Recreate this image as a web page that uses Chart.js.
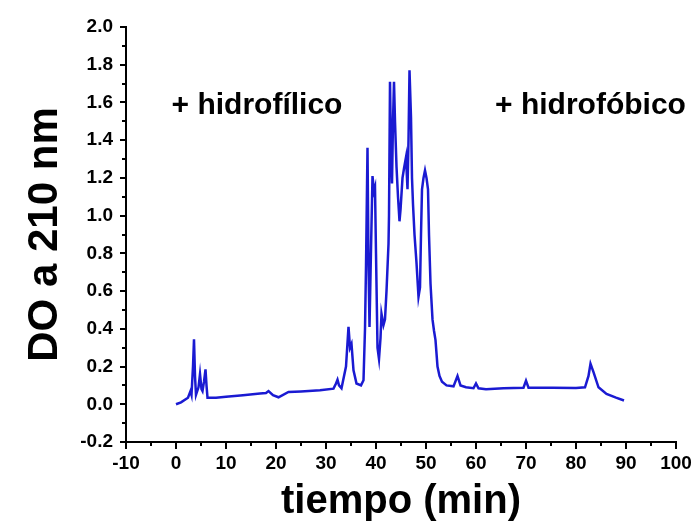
<!DOCTYPE html>
<html>
<head>
<meta charset="utf-8">
<script src="https://cdn.jsdelivr.net/npm/chart.js@4"></script>
<style>
  body { margin: 0; background: #fff; }
</style>
</head>
<body>
<canvas id="hplcChart" width="698" height="526"></canvas>
<script>
"use strict";

// retention time (min) and absorbance at 210 nm
const tiempo = [0, 1, 2.4, 2.9, 3.1, 3.4, 3.6, 3.8, 4.0, 4.5, 4.8, 5.1, 5.3, 5.6, 5.9, 6.1, 6.3,
  8, 10, 13.4, 16.8, 18.0, 18.5, 19.4, 20.5, 22.5, 25, 28.8, 31.5, 32.0, 32.3, 32.6, 33.1,
  34.0, 34.5, 34.8, 35.1, 35.5, 36.1, 37.0, 37.5, 37.8, 38.0, 38.3, 38.5, 38.7, 39.0, 39.3,
  39.6, 39.8, 40.0, 40.3, 40.6, 40.9, 41.1, 41.5, 41.8, 42.1, 42.5, 42.6, 42.8, 43.0, 43.2,
  43.4, 43.6, 43.8, 44.1, 44.4, 44.7, 44.9, 45.3, 45.6, 46.0, 46.3, 46.5, 46.7, 47.0, 47.2,
  47.4, 47.7, 48.1, 48.5, 48.8, 49.0, 49.2, 49.5, 49.8, 50.1, 50.4, 50.6, 50.9, 51.3, 51.6,
  51.9, 52.3, 52.7, 53.2, 54.1, 55.5, 56.3, 56.9, 58, 59.5, 60.0, 60.5, 62, 65.5, 69.5, 70.0,
  70.5, 75.3, 80, 81.8, 82.5, 82.9, 83.5, 84.5, 86.1, 88, 89.6];
const absorbancia = [0.0, 0.01, 0.035, 0.07, 0.05, 0.2, 0.345, 0.15, 0.05, 0.09, 0.16, 0.08, 0.07, 0.12, 0.185, 0.1, 0.035,
  0.035, 0.04, 0.048, 0.057, 0.06, 0.07, 0.048, 0.037, 0.065, 0.068, 0.074, 0.083, 0.11, 0.13, 0.1, 0.085,
  0.2, 0.41, 0.3, 0.32, 0.18, 0.11, 0.1, 0.127, 0.4, 0.73, 1.36, 0.75, 0.41, 0.82, 1.21,
  1.13, 1.15, 0.8, 0.3, 0.24, 0.35, 0.48, 0.42, 0.45, 0.6, 0.85, 1.0, 1.71, 1.35, 1.17,
  1.5, 1.71, 1.5, 1.26, 1.1, 0.97, 1.03, 1.2, 1.25, 1.31, 1.14, 1.4, 1.77, 1.52, 1.2,
  1.06, 0.9, 0.75, 0.57, 0.62, 0.9, 1.14, 1.2, 1.24, 1.2, 1.14, 0.9, 0.64, 0.45, 0.39,
  0.34, 0.2, 0.15, 0.12, 0.1, 0.095, 0.15, 0.1, 0.09, 0.085, 0.11, 0.085, 0.08, 0.085, 0.088, 0.125,
  0.088, 0.088, 0.086, 0.09, 0.15, 0.215, 0.17, 0.09, 0.055, 0.035, 0.02];

// axis ranges and ticks
const xTicks = [-10, 0, 10, 20, 30, 40, 50, 60, 70, 80, 90, 100];
const yTicks = [-0.2, 0.0, 0.2, 0.4, 0.6, 0.8, 1.0, 1.2, 1.4, 1.6, 1.8, 2.0];
const xMinor = [-5, 5, 15, 25, 35, 45, 55, 65, 75, 85, 95];
const yMinor = [-0.1, 0.1, 0.3, 0.5, 0.7, 0.9, 1.1, 1.3, 1.5, 1.7, 1.9];

// region labels: text, time, absorbance
const regionText = ["+ hidrofílico", "+ hidrofóbico"];
const regionX = [16.2, 82.9];
const regionY = [1.58, 1.58];

const FONT = "'Liberation Sans', Arial, sans-serif";

let points = tiempo.map((t, i) => ({ x: t, y: absorbancia[i] }));

// small ticks between the labelled ones + region labels
const extras = {
  id: "extras",
  afterDraw(chart) {
    const ctx = chart.ctx;
    const xs = chart.scales.x, ys = chart.scales.y;
    const area = chart.chartArea;
    ctx.save();
    ctx.strokeStyle = "#000";
    ctx.lineWidth = 2;
    ctx.beginPath();
    xMinor.forEach(v => {
      let px = Math.round(xs.getPixelForValue(v));
      ctx.moveTo(px, area.bottom);
      ctx.lineTo(px, area.bottom + 4);
    });
    yMinor.forEach(v => {
      let py = Math.round(ys.getPixelForValue(v));
      ctx.moveTo(area.left, py);
      ctx.lineTo(area.left - 4, py);
    });
    ctx.stroke();

    ctx.fillStyle = "#000";
    ctx.font = "bold 30px " + FONT;
    ctx.textAlign = "center";
    ctx.textBaseline = "middle";
    regionText.forEach((t, i) => {
      ctx.fillText(t, xs.getPixelForValue(regionX[i]), ys.getPixelForValue(regionY[i]));
    });
    ctx.restore();
  }
};

var ctxL = document.getElementById("hplcChart").getContext("2d");
var hplcChart = new Chart(ctxL, {
  type: "line",
  data: {
    datasets: [{
      data: points,
      borderColor: "rgb(26, 26, 210)",
      borderWidth: 2.5,
      pointRadius: 0,
      tension: 0,
      fill: false
    }]
  },
  options: {
    responsive: false,
    animation: false,
    layout: { padding: { top: 27, right: 22, left: 0, bottom: 0 } },
    plugins: {
      legend: { display: false },
      tooltip: { enabled: false }
    },
    scales: {
      x: {
        type: "linear",
        min: -10,
        max: 100,
        afterBuildTicks: s => { s.ticks = xTicks.map(v => ({ value: v })); },
        afterFit: s => { s.height = 84; },
        border: { display: true, color: "#000", width: 2 },
        grid: { drawOnChartArea: false, drawTicks: true, tickLength: 7, color: "#000", lineWidth: 2 },
        ticks: {
          color: "#000",
          padding: 3,
          maxRotation: 0,
          font: { family: FONT, size: 19, weight: "bold" }
        },
        title: {
          display: true,
          text: "tiempo (min)",
          color: "#000",
          padding: { top: 0, bottom: 0 },
          font: { family: FONT, size: 40, weight: "bold" }
        }
      },
      y: {
        min: -0.2,
        max: 2.0,
        afterBuildTicks: s => { s.ticks = yTicks.map(v => ({ value: v })); },
        afterFit: s => { s.width = 126; },
        border: { display: true, color: "#000", width: 2 },
        grid: { drawOnChartArea: false, drawTicks: true, tickLength: 6, color: "#000", lineWidth: 2 },
        ticks: {
          color: "#000",
          padding: 7,
          callback: v => v.toFixed(1),
          font: { family: FONT, size: 19, weight: "bold" }
        },
        title: {
          display: true,
          text: "DO a 210 nm",
          color: "#000",
          padding: { top: 20, bottom: 0 },
          font: { family: FONT, size: 42, weight: "bold" }
        }
      }
    }
  },
  plugins: [extras]
});
</script>
</body>
</html>
